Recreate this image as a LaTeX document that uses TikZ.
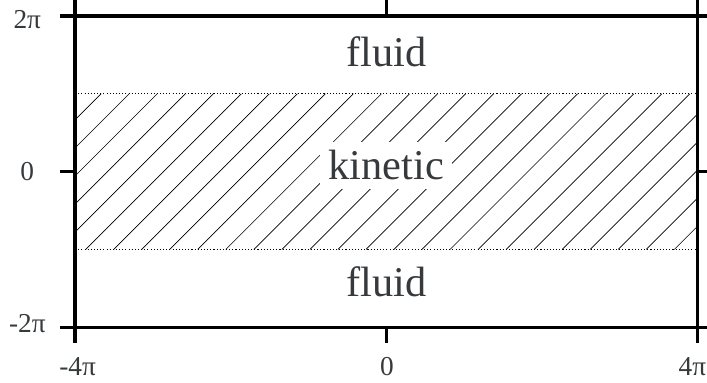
\documentclass[tikz,border=0pt]{standalone}
\usepackage{fontspec}
\setmainfont{Liberation Serif}
\usetikzlibrary{positioning}

\definecolor{textgray}{RGB}{55,58,60}

\tikzset{
    frame line/.style={line width=1.25pt},
    band edge/.style={line width=0.4pt, dash pattern=on 0.4pt off 0.75pt},
    hatch line/.style={line width=0.25pt},
    region label/.style={anchor=base, text=textgray,
        font=\fontsize{15.5}{18}\selectfont},
    tick label/.style={text=textgray, font=\fontsize{10}{12}\selectfont}
}

\begin{document}
\begin{tikzpicture}[x=1cm, y=1cm]

\useasboundingbox (-4.965, -2.717) rectangle (4.123, 2.206);

\coordinate (sw) at (-4, -2);
\coordinate (ne) at (4, 2);
\coordinate (band-sw) at (-4, -1);
\coordinate (band-se) at (4, -1);
\coordinate (band-nw) at (-4, 1);
\coordinate (band-ne) at (4, 1);

% hatching of the kinetic band
\begin{scope}
    \clip (band-sw) rectangle (band-ne);
    \foreach \k in {0, ..., 26}
        \draw [hatch line] ({-5.665+0.3603*\k}, -1) -- ++(2, 2);
\end{scope}

\draw [band edge] (band-nw) -- (band-ne);
\draw [band edge] (band-sw) -- (band-se);

\node [region label] (fluid-top) at (0, 1.349) {fluid};
\node [region label, fill=white, inner sep=3pt] (kinetic) at (0, -0.107) {kinetic};
\node [region label] (fluid-bottom) at (0, -1.607) {fluid};

% frame and ticks
\draw [frame line] (sw) rectangle (ne);

\foreach \x in {-4, 0, 4} {
    \draw [frame line] (\x, -2) -- ++(0, -0.2);
    \draw [frame line] (\x, 2) -- ++(0, 0.2);
}
\foreach \y in {-2, 0, 2} {
    \draw [frame line] (-4, \y) -- ++(-0.2, 0);
    \draw [frame line] (4, \y) -- ++(0.2, 0);
}

\foreach \y/\l [count=\i] in {1.843/2π, -0.12/0, -2.074/-2π}
    \node [tick label, anchor=base] (ylabel-\i) at (-4.614, \y) {\l};

\foreach \x/\l [count=\i] in {-3.968/-4π, 0.01/0, 3.936/4π}
    \node [tick label, anchor=base] (xlabel-\i) at (\x, -2.62) {\l};

\end{tikzpicture}
\end{document}
